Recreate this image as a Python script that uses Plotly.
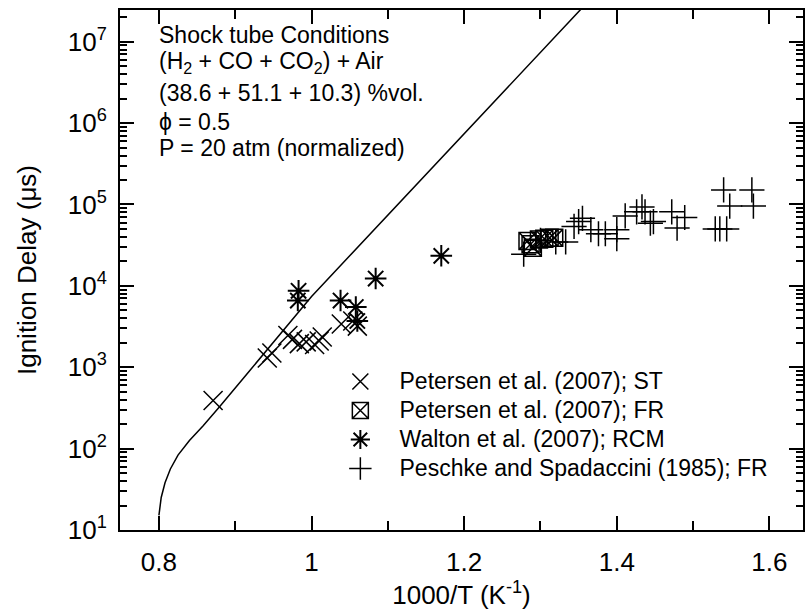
import plotly.graph_objects as go

# Model curve (1000/T, ignition delay in microseconds)
curve_x = [0.800, 0.803, 0.808, 0.815, 0.825, 0.840, 0.858, 0.880, 0.920, 0.960, 1.000, 1.050, 1.100, 1.200, 1.300, 1.360]
curve_y = [15.1, 25.1, 38.0, 56.2, 83.2, 126, 191, 331, 933, 2630, 7410, 23400, 74100, 741000, 7410000, 29500000]

# Petersen et al. (2007); ST
st_x = [0.871, 0.942, 0.948, 0.969, 0.975, 0.984, 0.993, 1.004, 1.010, 1.014, 1.039, 1.054, 1.060]
st_y = [390, 1300, 1500, 2450, 2200, 1950, 2050, 1900, 2100, 2350, 3400, 3700, 3200]

# Petersen et al. (2007); FR
fr_x = [1.283, 1.287, 1.290, 1.298, 1.305, 1.312, 1.318]
fr_y = [35500, 32400, 29500, 37200, 38000, 38900, 38900]

# Walton et al. (2007); RCM
rcm_x = [0.982, 0.983, 1.038, 1.058, 1.060, 1.084, 1.170]
rcm_y = [6600, 8700, 6600, 5500, 3700, 12300, 23400]

# Peschke and Spadaccini (1985); FR
ps_x = [1.278, 1.300, 1.320, 1.333, 1.344, 1.350, 1.355, 1.366, 1.376, 1.385, 1.400, 1.400, 1.411,
        1.426, 1.433, 1.437, 1.444, 1.448, 1.472, 1.479, 1.489, 1.529, 1.535, 1.544, 1.540, 1.548,
        1.577, 1.579]
ps_y = [24500, 36300, 34700, 34700, 53700, 61700, 67600, 49000, 43700, 43700, 49000, 38000, 72400,
        81300, 93300, 81300, 58900, 61700, 81300, 51300, 69200, 50100, 50100, 50100, 151000, 95500,
        151000, 95500]

y_tickvals = [10, 100, 1000, 10000, 100000, 1000000, 10000000]
y_ticktext = ["10<sup>1</sup>", "10<sup>2</sup>", "10<sup>3</sup>", "10<sup>4</sup>",
              "10<sup>5</sup>", "10<sup>6</sup>", "10<sup>7</sup>"]
x_tickvals = [0.8, 1.0, 1.2, 1.4, 1.6]
x_ticktext = ["0.8", "1", "1.2", "1.4", "1.6"]

info_lines = ["Shock tube Conditions",
              "(H<sub>2</sub> + CO + CO<sub>2</sub>) + Air",
              "(38.6 + 51.1 + 10.3) %vol.",
              "\u03d5 = 0.5",
              "P = 20 atm (normalized)"]

FONT = "Liberation Sans, Arial, sans-serif"
BLACK = "black"


def legend_name(s):
    return '<span style="font-size:23px">\u00a0\u00a0\u00a0' + s + '</span>'


L, R, T, B = 120, 805, 10, 530
PW, PH = R - L, B - T

fig = go.Figure()
fig.add_trace(go.Scatter(x=curve_x, y=curve_y, mode="lines", line=dict(color=BLACK, width=1.5),
                         showlegend=False, hoverinfo="skip"))
fig.add_trace(go.Scatter(x=st_x, y=st_y, mode="markers", name=legend_name("Petersen et al. (2007); ST"),
                         marker=dict(symbol="x-thin-open", size=19, color=BLACK, line=dict(width=1.5, color=BLACK))))
fig.add_trace(go.Scatter(x=fr_x, y=fr_y, mode="markers", name=legend_name("Petersen et al. (2007); FR"),
                         marker=dict(symbol="square-x-open", size=17, color=BLACK, line=dict(width=1.5, color=BLACK))))
fig.add_trace(go.Scatter(x=rcm_x, y=rcm_y, mode="markers", name=legend_name("Walton et al. (2007); RCM"),
                         marker=dict(symbol="asterisk-open", size=18, color=BLACK, line=dict(width=2, color=BLACK))))
fig.add_trace(go.Scatter(x=ps_x, y=ps_y, mode="markers", name=legend_name("Peschke and Spadaccini (1985); FR"),
                         marker=dict(symbol="cross-thin-open", size=18, color=BLACK, line=dict(width=1.5, color=BLACK))))

info_y = [35, 63, 93, 122, 148]
for txt, yp in zip(info_lines, info_y):
    fig.add_annotation(text=txt, xref="paper", yref="paper", x=(157 - L) / PW, y=1 - (yp - T) / PH,
                       xanchor="left", yanchor="middle", showarrow=False,
                       font=dict(family=FONT, size=23, color=BLACK))

fig.update_layout(
    width=809, height=611,
    margin=dict(l=L, r=809 - R, t=T, b=611 - B),
    paper_bgcolor="white", plot_bgcolor="white",
    font=dict(family=FONT, size=24, color=BLACK),
    showlegend=True,
    legend=dict(x=(341 - L) / PW, y=1 - (362 - T) / PH, xanchor="left", yanchor="top",
                bgcolor="rgba(0,0,0,0)", font=dict(family=FONT, size=20, color=BLACK),
                tracegroupgap=0, itemsizing="trace"),
)
fig.update_xaxes(range=[0.749, 1.644], tickvals=x_tickvals, ticktext=x_ticktext,
                 ticks="inside", ticklen=14, tickwidth=2, tickcolor=BLACK,
                 showline=True, linecolor=BLACK, linewidth=2, mirror="ticks",
                 showgrid=False, zeroline=False,
                 minor=dict(tickvals=[0.9, 1.1, 1.3, 1.5], ticks="inside", ticklen=9, tickwidth=2, tickcolor=BLACK),
                 title=dict(text="1000/T (K<sup>-1</sup>)", font=dict(size=26), standoff=2),
                 tickfont=dict(size=26), ticklabelstandoff=8)
fig.update_yaxes(type="log", range=[1, 7.39], tickvals=y_tickvals, ticktext=y_ticktext,
                 ticks="inside", ticklen=14, tickwidth=2, tickcolor=BLACK,
                 showline=True, linecolor=BLACK, linewidth=2, mirror="ticks",
                 showgrid=False, zeroline=False,
                 minor=dict(dtick="D1", ticks="inside", ticklen=7, tickwidth=1.5, tickcolor=BLACK),
                 title=dict(text="Ignition Delay (\u03bcs)", font=dict(size=26), standoff=24),
                 tickfont=dict(size=26), ticklabelstandoff=6)

fig.write_html("out.html")
